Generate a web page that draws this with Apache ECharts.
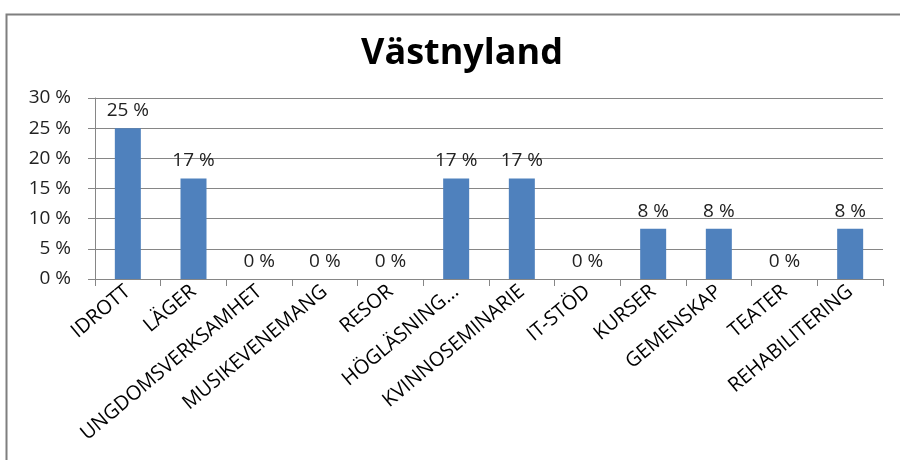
<!DOCTYPE html>
<html>
<head>
<meta charset="utf-8">
<script src="https://cdn.jsdelivr.net/npm/echarts@6/dist/echarts.min.js"></script>
<style>
  html, body { margin: 0; padding: 0; background: #fff; }
  #chart { width: 900px; height: 460px; }
</style>
</head>
<body>
<div id="chart"></div>
<script>
// kategorier och andelar (%)
const categories = [
  'IDROTT', 'LÄGER', 'UNGDOMSVERKSAMHET', 'MUSIKEVENEMANG', 'RESOR', 'HÖGLÄSNING...',
  'KVINNOSEMINARIE', 'IT-STÖD', 'KURSER', 'GEMENSKAP', 'TEATER', 'REHABILITERING'
];
const shares = [25, 16.67, 0, 0, 0, 16.67, 16.67, 0, 8.33, 8.33, 0, 8.33];
const yTicks = [0, 5, 10, 15, 20, 25, 30];

const chart = echarts.init(document.getElementById('chart'));
const fontFamily = 'Open Sans';

const option = {
  animation: false,
  textStyle: { fontFamily: fontFamily },
  title: {
    text: 'Västnyland',
    left: 356,
    top: 31,
    textStyle: { fontFamily: fontFamily, fontSize: 36, fontWeight: 'bold', color: '#000' }
  },
  graphic: [{
    type: 'rect',
    shape: { x: 6.5, y: 14.5, width: 900, height: 460 },
    style: { fill: 'none', stroke: '#7f7f7f', lineWidth: 2 },
    silent: true
  }],
  grid: { left: 95, right: 17, top: 98, bottom: 181 },
  xAxis: {
    type: 'category',
    data: categories,
    axisLine: { lineStyle: { color: '#868686' } },
    axisTick: { show: true, length: 7, lineStyle: { color: '#868686' } },
    axisLabel: {
      rotate: 40,
      interval: 0,
      fontSize: 20,
      color: '#000',
      margin: 10
    }
  },
  yAxis: {
    type: 'value',
    min: yTicks[0],
    max: yTicks[yTicks.length - 1],
    interval: 5,
    axisLine: { show: true, lineStyle: { color: '#868686' } },
    axisTick: { show: true, length: 7, lineStyle: { color: '#868686' } },
    axisLabel: {
      fontSize: 19,
      color: '#222',
      margin: 24,
      formatter: v => v + ' %'
    },
    splitLine: { lineStyle: { color: '#868686' } }
  },
  series: [{
    type: 'bar',
    data: shares,
    barWidth: 26,
    itemStyle: { color: '#4f81bd' },
    label: {
      show: true,
      position: 'top',
      distance: 8,
      fontSize: 19,
      color: '#222',
      formatter: p => Math.round(p.value) + ' %'
    }
  }]
};

chart.setOption(option);
</script>
</body>
</html>
